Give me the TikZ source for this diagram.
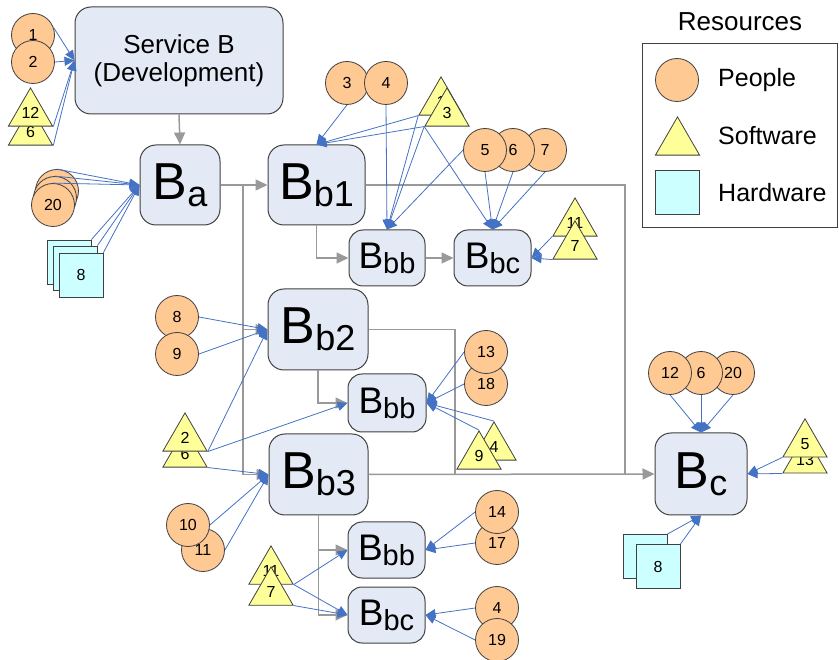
\documentclass[tikz,border=0pt]{standalone}
\usepackage{fontspec}
\setmainfont{Liberation Sans}
\usetikzlibrary{positioning,arrows.meta,shapes.geometric}
\definecolor{edge}{HTML}{404040}
\definecolor{boxfill}{HTML}{E4EAF5}
\definecolor{pplfill}{HTML}{FFC994}
\definecolor{swfill}{HTML}{FFFF99}
\definecolor{hwfill}{HTML}{CCFFFF}
\definecolor{resblue}{HTML}{4472C4}
\definecolor{flowgray}{HTML}{999999}
\newcommand{\fs}[1]{\fontsize{#1}{#1}\selectfont}
\newcommand{\blab}[4]{{\fs{#1}B}\raisebox{-#4pt}{\fs{#2}#3}}
\tikzset{
  svc/.style={draw=edge,fill=boxfill,rounded corners=16pt,line width=1pt,inner sep=0pt,align=center},
  ppl/.style={circle,draw=edge,fill=pplfill,minimum size=43pt,inner sep=0pt,line width=0.8pt,font=\fs{16}},
  sw/.style={regular polygon,regular polygon sides=3,draw=edge,fill=swfill,minimum size=51pt,inner sep=0pt,line width=0.8pt,font=\fs{16}},
  hw/.style={rectangle,draw=edge,fill=hwfill,minimum size=44pt,inner sep=0pt,line width=0.8pt,font=\fs{16}},
  alloc/.style={-{Triangle[length=10pt,width=9pt]},line width=0.8pt,resblue},
  flow/.style={-{Triangle[length=12pt,width=11pt]},line width=1.5pt,flowgray},
  flowline/.style={line width=1.5pt,flowgray},
  legtext/.style={anchor=west,inner sep=0pt,font=\fs{25}},
}

\begin{document}
\begin{tikzpicture}[x=1pt,y=-1pt]
\useasboundingbox (0,0) rectangle (839,660);
% services
\node[svc,minimum width=208pt,minimum height=107pt,font=\fs{26}] (svcB) at (179,60.5) {Service B\\[2pt](Development)};
\node[svc,minimum width=80pt,minimum height=80pt] (ba) at (180,185) {\blab{52}{36}{a}{7}};
\node[svc,minimum width=97pt,minimum height=80pt] (bbone) at (316.5,185) {\blab{52}{36}{b1}{7}};
\node[svc,rounded corners=14pt,minimum width=76pt,minimum height=56pt] (bbbA) at (387,258) {\blab{37}{29}{bb}{5}};
\node[svc,rounded corners=14pt,minimum width=77pt,minimum height=56pt] (bbcA) at (492.5,258) {\blab{37}{29}{bc}{5}};
\node[svc,minimum width=100pt,minimum height=81pt] (bbtwo) at (318,329.5) {\blab{52}{36}{b2}{7}};
\node[svc,rounded corners=14pt,minimum width=78pt,minimum height=58pt] (bbbB) at (387,403) {\blab{37}{29}{bb}{5}};
\node[svc,minimum width=99pt,minimum height=81pt] (bbthree) at (318.5,474.5) {\blab{52}{36}{b3}{7}};
\node[svc,rounded corners=14pt,minimum width=77pt,minimum height=56pt] (bbbC) at (386.5,550) {\blab{37}{29}{bb}{5}};
\node[svc,rounded corners=14pt,minimum width=77pt,minimum height=56pt] (bbcC) at (386.5,615) {\blab{37}{29}{bc}{5}};
\node[svc,minimum width=92pt,minimum height=82pt] (bc) at (701,474) {\blab{52}{36}{c}{7}};

% resources of Service B
\node[ppl] (pa1) at (33,35) {1};
\node[ppl] (pa2) at (33,62) {2};
\node[sw] (sa6) at (30.5,132.4) {6};
\node[sw] (sa12) at (30.5,113.4) {12};
% resources of B_a
\node[ppl] (pb20c) at (57,191) {};
\node[ppl] (pb20b) at (55,198) {};
\node[ppl] (pb20) at (53,205) {20};
\node[hw] (hb8c) at (69,262) {};
\node[hw] (hb8b) at (75,268) {};
\node[hw] (hb8) at (81,275) {8};
% resources of B_b1 branch
\node[ppl] (pc3) at (347,83) {3};
\node[ppl] (pc4) at (386,83) {4};
\node[sw] (sc1) at (441,102.4) {1};
\node[sw] (sc3) at (447,113.4) {3};
\node[ppl] (pc7) at (545,150) {7};
\node[ppl] (pc6) at (513,150) {6};
\node[ppl] (pc5) at (485,150) {5};
\node[sw] (sc11) at (575,223.4) {11};
\node[sw] (sc7) at (575,246.4) {7};
% resources of B_b2 branch
\node[ppl] (pd8) at (177,317) {8};
\node[ppl] (pd9) at (177,354) {9};
\node[sw] (sd6) at (185,454.4) {6};
\node[sw] (sd2) at (185,438.4) {2};
\node[ppl] (pd18) at (486,384) {18};
\node[ppl] (pd13) at (486,352) {13};
\node[sw] (sd4) at (494,447.4) {4};
\node[sw] (sd9) at (479,456.4) {9};
% resources of B_b3 branch
\node[ppl] (pe11) at (203,550) {11};
\node[ppl] (pe10) at (188,525) {10};
\node[sw] (se11) at (271,571.4) {11};
\node[sw] (se7) at (271,592.4) {7};
\node[ppl] (pe17) at (497,543) {17};
\node[ppl] (pe14) at (497,512) {14};
\node[ppl] (pe4) at (497,608) {4};
\node[ppl] (pe19) at (497,640) {19};
% resources of B_c
\node[ppl] (pf20) at (733,373) {20};
\node[ppl] (pf6) at (701,373) {6};
\node[ppl] (pf12) at (670,373) {12};
\node[sw] (sf13) at (805,460.3) {13};
\node[sw] (sf5) at (805,444.3) {5};
\node[hw] (hf8b) at (645,556.5) {};
\node[hw] (hf8) at (658,566.5) {8};

% flow between services
\draw[flow] (svcB.south) -- (ba.north);
\draw[flow] (ba.east) -- (bbone.west);
\coordinate (split) at (243,185);
\draw[flow] (split) |- (bbtwo.west);
\draw[flow] (split) |- (bbthree.west);
\draw[flow] (bbone.south) |- (bbbA.west);
\draw[flow] (bbbA) -- (bbcA);
\draw[flow] (bbtwo.south) |- (bbbB.west);
\draw[flow] (bbthree.south) |- (bbbC.west);
\draw[flow] (bbthree.south) |- (bbcC.west);
\coordinate (joinA) at (625,474.5);
\coordinate (joinB) at (455,474.5);
\draw[flowline] (bbone.east) -| (joinA);
\draw[flowline] (bbtwo.east) -| (joinB);
\draw[flow] (bbthree.east) -- (bc.west);

% resource links
\draw[alloc] (pa1.20) -- (svcB.west);
\draw[alloc] (pa2.east) -- (svcB.west);
\draw[alloc] (sa12.corner 3) -- (svcB.west);
\draw[alloc] (sa6.corner 3) -- (svcB.west);
\foreach \r in {pb20c,pb20b,pb20} \draw[alloc] (\r.north) -- (ba.west);
\foreach \r in {hb8c,hb8b,hb8} \draw[alloc] (\r.north east) -- (ba.west);
\draw[alloc] (pc3.south) -- (bbone.north);
\draw[alloc] (sc1.corner 2) -- (bbone.north);
\draw[alloc] (sc3.corner 2) -- (bbone.north);
\draw[alloc] (pc4.south) -- (bbbA.north);
\draw[alloc] (sc1.corner 2) -- (bbbA.north);
\draw[alloc] (sc3.corner 2) -- (bbbA.north);
\draw[alloc] (pc5.west) -- (bbbA.north);
\draw[alloc] (sc3.corner 2) -- (bbcA.north);
\foreach \r in {pc5,pc6,pc7} \draw[alloc] (\r.south) -- (bbcA.north);
\draw[alloc] (sc11.corner 2) -- (bbcA.east);
\draw[alloc] (sc7.corner 2) -- (bbcA.east);
\draw[alloc] (pd8.east) -- (bbtwo.west);
\draw[alloc] (pd9.east) -- (bbtwo.west);
\draw[alloc] (sd2.corner 3) -- (bbtwo.west);
\draw[alloc] (sd2.corner 3) -- (bbbB.west);
\draw[alloc] (sd6.corner 3) -- (bbthree.west);
\draw[alloc] (pd13.west) -- (bbbB.east);
\draw[alloc] (pd18.west) -- (bbbB.east);
\draw[alloc] (sd4.corner 1) -- (bbbB.east);
\draw[alloc] (sd9.corner 1) -- (bbbB.east);
\draw[alloc] (pe10.east) -- (bbthree.west);
\draw[alloc] (pe11.east) -- (bbthree.west);
\draw[alloc] (se11.corner 3) -- (bbbC.west);
\draw[alloc] (se11.corner 3) -- (bbcC.west);
\draw[alloc] (se7.corner 3) -- (bbcC.west);
\draw[alloc] (pe14.west) -- (bbbC.east);
\draw[alloc] (pe17.west) -- (bbbC.east);
\draw[alloc] (pe4.west) -- (bbcC.east);
\draw[alloc] (pe19.west) -- (bbcC.east);
\foreach \r in {pf12,pf6,pf20} \draw[alloc] (\r.south) -- (bc.north);
\draw[alloc] (sf5.corner 2) -- (bc.east);
\draw[alloc] (sf13.corner 2) -- (bc.east);
\draw[alloc] (hf8b.north east) -- (bc.south);
\draw[alloc] (hf8.north east) -- (bc.south);

% legend
\node[font=\fs{26},inner sep=0pt] (legtitle) at (740,22) {Resources};
\node[draw=edge,line width=0.8pt,minimum width=195pt,minimum height=184pt,inner sep=0pt] (legbox) at (739.5,135) {};
\node[ppl] (legppl) at (677,80) {};
\node[sw] (legsw) at (677.5,142.4) {};
\node[hw] (leghw) at (677.5,192.5) {};
\node[legtext] (legpplt) at (718,80) {People};
\node[legtext] (legswt) at (718,136) {Software};
\node[legtext] (leghwt) at (718,193) {Hardware};
\end{tikzpicture}
\end{document}
